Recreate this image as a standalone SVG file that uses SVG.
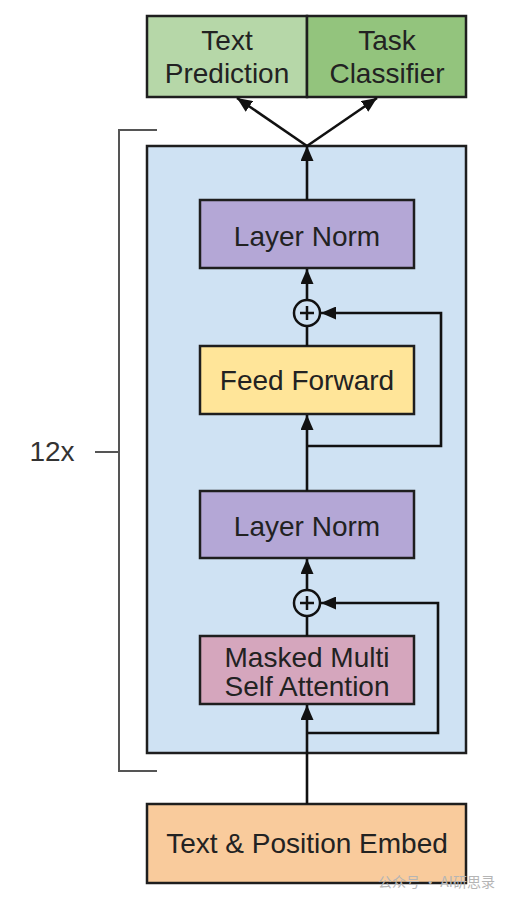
<svg xmlns="http://www.w3.org/2000/svg" width="517" height="903" viewBox="0 0 517 903">
<defs>
<style>
.box{stroke:#1e1e1e;stroke-width:2.5}
.t{font-family:"Liberation Sans",Arial,sans-serif;font-size:28px;fill:#222;text-anchor:middle}
.c{fill:none;stroke:#111;stroke-width:2.6}
.br{fill:none;stroke:#555;stroke-width:2}
</style>
<marker id="ah" viewBox="0 0 15 13" refX="15" refY="6.5" markerWidth="15" markerHeight="13" markerUnits="userSpaceOnUse" orient="auto">
<path d="M0,0 L15,6.5 L0,13 z" fill="#111"/>
</marker>
</defs>
<rect width="517" height="903" fill="#ffffff"/>
<g id="bracket">
<path class="br" d="M157,130 H119 V771 H157"/>
<line class="br" x1="95" y1="452" x2="119" y2="452"/>
<text x="52" y="461" class="t" style="fill:#333">12x</text>
</g>
<g id="block">
<rect class="box" x="147" y="146" width="319" height="607" fill="#cfe2f3"/>
</g>
<g id="text-prediction">
<rect class="box" x="147" y="16" width="160" height="81" fill="#b6d7a8"/>
<text class="t" x="227" y="50">Text</text>
<text class="t" x="227" y="83">Prediction</text>
</g>
<g id="task-classifier">
<rect class="box" x="307" y="16" width="159" height="81" fill="#93c47d"/>
<text class="t" x="387" y="50">Task</text>
<text class="t" x="387" y="83">Classifier</text>
</g>
<g id="layer-norm-1">
<rect class="box" x="200" y="200" width="214" height="68" fill="#b4a7d6"/>
<text class="t" x="307" y="246">Layer Norm</text>
</g>
<g id="add-1">
<circle cx="307" cy="313" r="13" fill="#cfe2f3" stroke="#111" stroke-width="2.5"/>
<path d="M300,313 H314 M307,306 V320" stroke="#111" stroke-width="2.5"/>
</g>
<g id="feed-forward">
<rect class="box" x="200" y="346" width="214" height="68" fill="#ffe599"/>
<text class="t" x="307" y="390">Feed Forward</text>
</g>
<g id="layer-norm-2">
<rect class="box" x="200" y="491" width="214" height="67" fill="#b4a7d6"/>
<text class="t" x="307" y="536">Layer Norm</text>
</g>
<g id="add-2">
<circle cx="307" cy="603" r="13" fill="#cfe2f3" stroke="#111" stroke-width="2.5"/>
<path d="M300,603 H314 M307,596 V610" stroke="#111" stroke-width="2.5"/>
</g>
<g id="masked-attention">
<rect class="box" x="200" y="636" width="214" height="68" fill="#d5a6bd"/>
<text class="t" x="307" y="667">Masked Multi</text>
<text class="t" x="307" y="696">Self Attention</text>
</g>
<g id="embed">
<rect class="box" x="147" y="804" width="319" height="79" fill="#f9cb9c"/>
<text class="t" x="307" y="853">Text &amp; Position Embed</text>
</g>
<g id="connectors">
<line class="c" x1="307" y1="804" x2="307" y2="705" marker-end="url(#ah)"/>
<polyline class="c" points="307,733 438,733 438,603 321,603" marker-end="url(#ah)"/>
<line class="c" x1="307" y1="636" x2="307" y2="616"/>
<line class="c" x1="307" y1="590" x2="307" y2="559" marker-end="url(#ah)"/>
<line class="c" x1="307" y1="491" x2="307" y2="415" marker-end="url(#ah)"/>
<polyline class="c" points="307,446 441,446 441,313 321,313" marker-end="url(#ah)"/>
<line class="c" x1="307" y1="346" x2="307" y2="326"/>
<line class="c" x1="307" y1="300" x2="307" y2="269" marker-end="url(#ah)"/>
<line class="c" x1="307" y1="200" x2="307" y2="146" marker-end="url(#ah)"/>
<line class="c" x1="307" y1="146" x2="237" y2="98" marker-end="url(#ah)"/>
<line class="c" x1="307" y1="146" x2="377" y2="98" marker-end="url(#ah)"/>
</g>
<text x="378" y="887" style="font-family:'Noto Sans CJK SC',sans-serif;font-size:14px;fill:#b5b5b5">公众号 · AI研思录</text>
</svg>
